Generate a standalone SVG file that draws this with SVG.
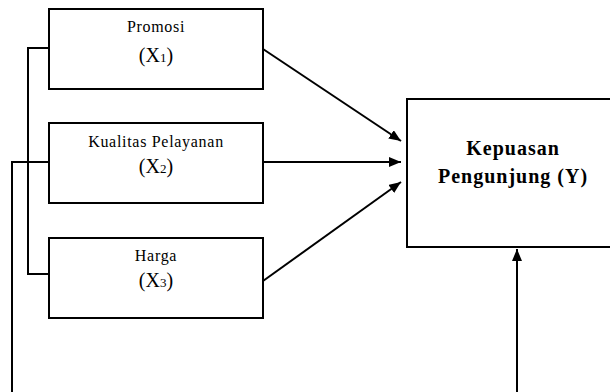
<svg xmlns="http://www.w3.org/2000/svg" width="610" height="392" viewBox="0 0 610 392">
<style>
.box{fill:#fff;stroke:#000;stroke-width:2}
.ln{fill:none;stroke:#000;stroke-width:2}
.t{font-family:"Liberation Serif","Times New Roman",serif;font-size:16px;letter-spacing:0.7px;text-anchor:middle;fill:#000}
.x{font-family:"Liberation Serif","Times New Roman",serif;font-size:20px;text-anchor:middle;fill:#000}
.y{font-family:"Liberation Serif","Times New Roman",serif;font-size:20px;font-weight:bold;letter-spacing:1px;text-anchor:middle;fill:#000}
</style>
<defs>
<marker id="ah" markerUnits="userSpaceOnUse" markerWidth="14" markerHeight="12" refX="12" refY="5" orient="auto">
<path d="M0,0 L12,5 L0,10 Z" fill="#000"/>
</marker>
</defs>
<rect width="610" height="392" fill="#fff"/>
<g id="connectors">
<polyline class="ln" points="49,48 28,48 28,274 49,274"/>
<polyline class="ln" points="49,162 12,162 12,392"/>
<line class="ln" x1="263" y1="49" x2="401" y2="141" marker-end="url(#ah)"/>
<line class="ln" x1="263" y1="162" x2="401" y2="162" marker-end="url(#ah)"/>
<line class="ln" x1="263" y1="281" x2="401" y2="182" marker-end="url(#ah)"/>
<line class="ln" x1="517" y1="392" x2="517" y2="249" marker-end="url(#ah)"/>
</g>
<g id="x1">
<rect class="box" x="49" y="9" width="214" height="80"/>
<text class="t" x="156" y="32">Promosi</text>
<text class="x" x="156" y="62">(X<tspan font-size="13">1</tspan>)</text>
</g>
<g id="x2">
<rect class="box" x="49" y="123" width="214" height="80"/>
<text class="t" x="156" y="147">Kualitas Pelayanan</text>
<text class="x" x="156" y="173">(X<tspan font-size="13">2</tspan>)</text>
</g>
<g id="x3">
<rect class="box" x="49" y="238" width="214" height="80"/>
<text class="t" x="156" y="261">Harga</text>
<text class="x" x="156" y="287">(X<tspan font-size="13">3</tspan>)</text>
</g>
<g id="y">
<rect class="box" x="407" y="99" width="220" height="148"/>
<text class="y" x="513" y="155">Kepuasan</text>
<text class="y" x="513" y="183">Pengunjung (Y)</text>
</g>
</svg>
